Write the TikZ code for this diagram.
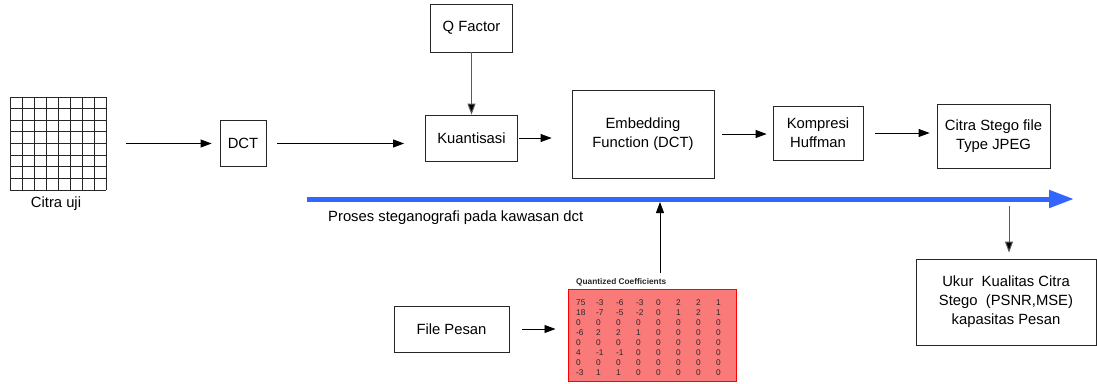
\documentclass[tikz,border=0pt]{standalone}
\usepackage{fontspec}
\setmainfont{Liberation Sans}
\usetikzlibrary{arrows.meta}
\definecolor{bluearrow}{RGB}{51,102,255}
\definecolor{matfill}{RGB}{250,122,122}
\definecolor{linegray}{RGB}{90,90,90}
\tikzset{
  box/.style={draw=black!85, line width=0.8pt, fill=white, align=center, inner sep=0pt,
    font=\fontsize{14.8}{19}\selectfont},
  arr/.style={draw=black, line width=0.8pt, -{Triangle[length=11pt,width=8pt]}},
  garr/.style={draw=linegray, line width=1pt, -{Triangle[length=11pt,width=8pt,fill=black]}},
  lbl/.style={font=\fontsize{14.8}{19}\selectfont, inner sep=0pt},
  num/.style={font=\fontsize{8.3}{9}\selectfont, inner sep=0pt, anchor=west, black!85},
}
\begin{document}
\begin{tikzpicture}[x=1pt,y=-1pt]
\useasboundingbox (0,0) rectangle (1097,383);
% grid image
\foreach \i in {0,...,8} {
  \draw[black!85, line width=1pt] (10+12*\i,97) -- (10+12*\i,190);
  \draw[black!85, line width=1pt] (10,97+11.625*\i) -- (106,97+11.625*\i);
}
\node[inner sep=0pt, minimum width=96pt, minimum height=93pt] (grid) at (58,143.5) {};
\node[lbl] (citra) at (56,204) {Citra uji};
% boxes
\node[box, minimum width=46pt, minimum height=46pt] (dct) at (243,143.5) {DCT};
\node[box, minimum width=82pt, minimum height=48pt] (qf) at (471.5,28) {Q Factor};
\node[box, minimum width=92pt, minimum height=46pt] (kuant) at (471.5,138) {Kuantisasi};
\node[box, minimum width=142pt, minimum height=88pt] (embed) at (643,134) {Embedding\\Function (DCT)};
\node[box, minimum width=90pt, minimum height=54pt] (komp) at (818,133) {Kompresi\\Huffman};
\node[box, minimum width=113pt, minimum height=64pt] (stego) at (993.5,136) {Citra Stego file\\Type JPEG};
\node[box, minimum width=180pt, minimum height=86pt] (ukur) at (1006,302) {Ukur~ Kualitas Citra\\Stego~ (PSNR,MSE)\\kapasitas Pesan};
\node[box, minimum width=115pt, minimum height=46pt] (file) at (451.5,329) {File Pesan};
% matrix
\node[draw=red, line width=1pt, fill=matfill, minimum width=168pt, minimum height=92pt, inner sep=0pt] (mat) at (652,335) {};
\node[font=\fontsize{8.3}{9}\selectfont\bfseries, inner sep=0pt, anchor=west, black!85] (qlab) at (576,282) {Quantized Coefficients};
\foreach \row [count=\r from 0] in {
  {75,-3,-6,-3,0,2,2,1},
  {18,-7,-5,-2,0,1,2,1},
  {0,0,0,0,0,0,0,0},
  {-6,2,2,1,0,0,0,0},
  {0,0,0,0,0,0,0,0},
  {4,-1,-1,0,0,0,0,0},
  {0,0,0,0,0,0,0,0},
  {-3,1,1,0,0,0,0,0}} {
  \foreach \v [count=\c from 0] in \row {
    \node[num] at (576+20*\c,303+9.9*\r) {\v};
  }
}
% blue process arrow
\coordinate (bs) at (307,199);
\coordinate (be) at (1074,199);
\draw[bluearrow, line width=5pt, -{Triangle[length=25pt,width=17pt]}] (bs) -- (be);
\node[lbl, anchor=west] (proses) at (328,218) {Proses steganografi pada kawasan dct};
% connectors
\draw[arr, shorten <=20pt, shorten >=8pt] (grid.east) -- (grid.east -| dct.west);
\draw[arr, shorten <=11pt, shorten >=21pt] (dct.east) -- (dct.east -| kuant.west);
\draw[garr] (qf.south) -- (qf.south |- kuant.north);
\draw[arr, shorten <=1pt, shorten >=20pt] (kuant.east) -- (kuant.east -| embed.west);
\draw[arr, shorten <=8pt, shorten >=6pt] (embed.east) -- (embed.east -| komp.west);
\draw[arr, shorten <=12pt, shorten >=7pt] (komp.east) -- (komp.east -| stego.west);
\draw[arr, shorten <=13pt, shorten >=12pt] (file.east) -- (file.east -| mat.west);
\coordinate (up) at (660,273);
\draw[arr, shorten >=3pt] (up) -- (up |- bs);
\coordinate (dn) at (1009,206);
\draw[garr, shorten >=6pt] (dn) -- (dn |- ukur.north);
\end{tikzpicture}
\end{document}
